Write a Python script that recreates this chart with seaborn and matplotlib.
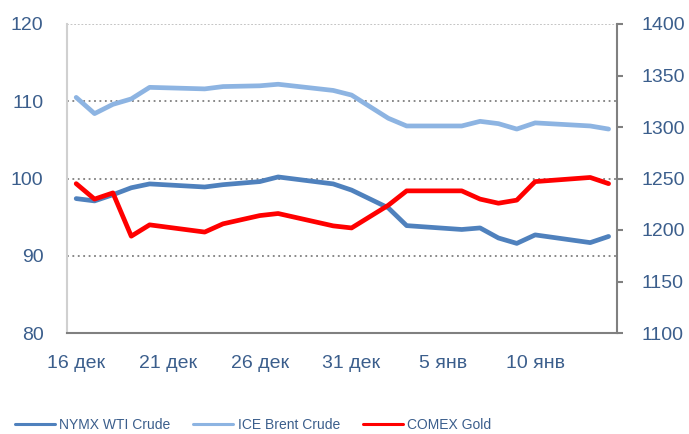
import numpy as np
import pandas as pd
import matplotlib
matplotlib.use('Agg')
import matplotlib.pyplot as plt
import seaborn as sns

sns.set_style('white')
plt.rcParams['font.family'] = ['Liberation Sans', 'DejaVu Sans']

# trading days, 16 Dec 2013 - 14 Jan 2014
dates = ['2013-12-16', '2013-12-17', '2013-12-18', '2013-12-19', '2013-12-20',
         '2013-12-23', '2013-12-24', '2013-12-26', '2013-12-27', '2013-12-30',
         '2013-12-31', '2014-01-02', '2014-01-03', '2014-01-06', '2014-01-07',
         '2014-01-08', '2014-01-09', '2014-01-10', '2014-01-13', '2014-01-14']
wti = [97.4, 97.1, 97.9, 98.8, 99.3, 98.9, 99.2, 99.6, 100.2, 99.3,
       98.5, 96.2, 93.9, 93.4, 93.6, 92.3, 91.6, 92.7, 91.7, 92.5]
brent = [110.5, 108.4, 109.6, 110.3, 111.8, 111.6, 111.9, 112.0, 112.2, 111.4,
         110.8, 107.8, 106.8, 106.8, 107.4, 107.1, 106.4, 107.2, 106.8, 106.4]
gold = [1245, 1230, 1236, 1194, 1205, 1198, 1206, 1214, 1216, 1204,
        1202, 1224, 1238, 1238, 1230, 1226, 1229, 1247, 1251, 1245]

tick_dates = ['2013-12-16', '2013-12-21', '2013-12-26', '2013-12-31', '2014-01-05', '2014-01-10']
tick_labels = ['16 дек', '21 дек', '26 дек', '31 дек', '5 янв', '10 янв']
series_names = ['NYMX WTI Crude', 'ICE Brent Crude', 'COMEX Gold']

c_wti = '#4F81BD'
c_brent = '#8DB4E2'
c_gold = '#FF0000'
txt = '#3B5E8C'

df = pd.DataFrame({'date': pd.to_datetime(dates), 'wti': wti, 'brent': brent, 'gold': gold})

fig = plt.figure(figsize=(6.89, 4.34), dpi=100)
ax = fig.add_axes([67 / 689, 1 - 333 / 434, 550 / 689, 309 / 434])
ax2 = ax.twinx()

sns.lineplot(data=df, x='date', y='wti', ax=ax, color=c_wti, lw=3.4, label=series_names[0], legend=False)
sns.lineplot(data=df, x='date', y='brent', ax=ax, color=c_brent, lw=3.4, label=series_names[1], legend=False)
sns.lineplot(data=df, x='date', y='gold', ax=ax2, color=c_gold, lw=3.4, label=series_names[2], legend=False)

ax.set_ylim(80, 120)
ax.set_yticks([80, 90, 100, 110, 120])
ax2.set_ylim(1100, 1400)
ax2.set_yticks(range(1100, 1401, 50))
ax.set_xlim(pd.Timestamp('2013-12-15 12:00'), pd.Timestamp('2014-01-14 11:00'))
ax.set_xticks(pd.to_datetime(tick_dates))
ax.set_xticklabels(tick_labels)
ax.set_xlabel('')
ax.set_ylabel('')
ax2.set_ylabel('')

for v in [90, 100, 110]:
    ax.axhline(v, color='#7F7F7F', lw=1.3, ls=(0, (1, 2)), zorder=0)
ax.axhline(120, color='#BFBFBF', lw=1.3, ls=(0, (1, 1)), zorder=0)

for a in (ax, ax2):
    for s in a.spines.values():
        s.set_visible(False)
ax.spines['left'].set_visible(True)
ax.spines['left'].set_color('#D0D0D0')
ax.spines['left'].set_linewidth(1.5)
ax.spines['bottom'].set_visible(True)
ax.spines['bottom'].set_color('#808080')
ax.spines['bottom'].set_linewidth(1.5)
ax2.spines['right'].set_visible(True)
ax2.spines['right'].set_color('#808080')
ax2.spines['right'].set_linewidth(1.5)

ax.tick_params(axis='y', length=0, pad=17, labelsize=14, labelcolor=txt)
ax.tick_params(axis='x', length=0, pad=16, labelsize=14, labelcolor=txt)
ax2.tick_params(axis='y', length=4.5, width=1.5, color='#808080', direction='out',
                pad=13, labelsize=14, labelcolor=txt)

h1, l1 = ax.get_legend_handles_labels()
h2, l2 = ax2.get_legend_handles_labels()
leg = fig.legend(h1 + h2, l1 + l2, loc='center left', bbox_to_anchor=(0.003, 1 - 425 / 434), ncol=3,
                 frameon=False, fontsize=10, handlelength=2.9, handletextpad=0.3,
                 columnspacing=1.65, labelcolor=txt)
for h in leg.get_lines():
    h.set_linewidth(2.2)

fig.savefig('out.png', dpi=100)
